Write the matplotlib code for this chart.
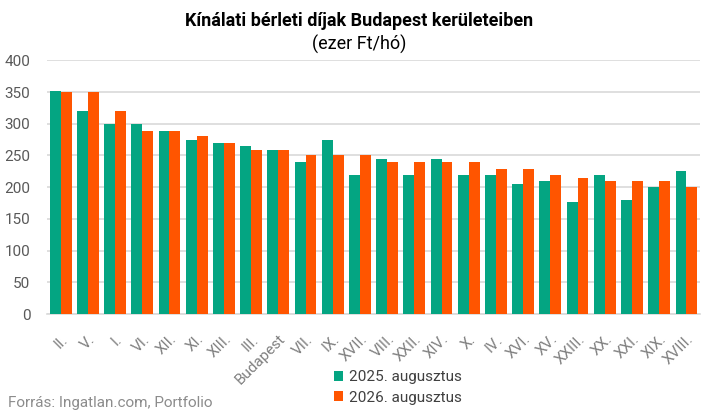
import matplotlib
matplotlib.use('Agg')
import matplotlib.pyplot as plt
import numpy as np

plt.rcParams['font.family'] = ['Roboto', 'DejaVu Sans']

# kerületek és átlagos kínálati bérleti díjak (ezer Ft/hó)
districts = ['II.', 'V.', 'I.', 'VI.', 'XII.', 'XI.', 'XIII.', 'III.', 'Budapest',
             'VII.', 'IX.', 'XVII.', 'VIII.', 'XXII.', 'XIV.', 'X.', 'IV.', 'XVI.',
             'XV.', 'XXIII.', 'XX.', 'XXI.', 'XIX.', 'XVIII.']
rent_2025 = [352, 320, 300, 300, 289, 275, 270, 265, 259, 240, 275, 220,
             245, 220, 245, 220, 220, 205, 210, 177, 220, 180, 200, 225]
rent_2026 = [350, 350, 320, 289, 289, 280, 270, 259, 259, 250, 250, 250,
             240, 240, 240, 240, 229, 228, 220, 215, 210, 210, 210, 200]
series_names = ['2025. augusztus', '2026. augusztus']
yticks = [0, 50, 100, 150, 200, 250, 300, 350, 400]

green = '#04A582'
orange = '#FF5500'

fig = plt.figure(figsize=(7.19, 4.16), dpi=100)
ax = fig.add_axes([0.0654, 0.245, 0.9082, 0.61])

x = np.arange(len(districts))
w = 0.4
ax.bar(x - w / 2, rent_2025, width=w, color=green, label=series_names[0], zorder=3)
ax.bar(x + w / 2, rent_2026, width=w, color=orange, label=series_names[1], zorder=3)

ax.set_xlim(-0.5, len(districts) - 0.5)
ax.set_ylim(0, 400)
ax.set_yticks(yticks)
ax.set_yticklabels([str(v) for v in yticks], fontsize=11, color='#595959')
ax.set_xticks(x)
ax.set_xticklabels(districts, rotation=45, ha='right', rotation_mode='anchor',
                   fontsize=11, color='#7f7f7f')
ax.tick_params(axis='both', length=0)
ax.tick_params(axis='y', pad=12)
ax.tick_params(axis='x', pad=13)

ax.grid(axis='y', color='#d9d9d9', linewidth=1.2, zorder=0)
for s in ['top', 'right', 'left']:
    ax.spines[s].set_visible(False)
ax.spines['bottom'].set_color('#d9d9d9')
ax.spines['bottom'].set_linewidth(1.2)

fig.text(0.5, 0.938, 'Kínálati bérleti díjak Budapest kerületeiben', ha='center',
         fontsize=13, fontweight='bold', color='black')
fig.text(0.5, 0.88, '(ezer Ft/hó)', ha='center', fontsize=13, color='black')

leg = fig.legend(loc='upper left', bbox_to_anchor=(0.464, 0.11), frameon=False,
                 fontsize=11, handlelength=0.6, handleheight=0.6, handletextpad=0.4,
                 labelspacing=0.42, borderaxespad=0, borderpad=0)
for t in leg.get_texts():
    t.set_color('#404040')

fig.text(0.011, 0.022, 'Forrás: Ingatlan.com, Portfolio', fontsize=11, color='#8c8c8c')

plt.savefig('out.png', dpi=100)
